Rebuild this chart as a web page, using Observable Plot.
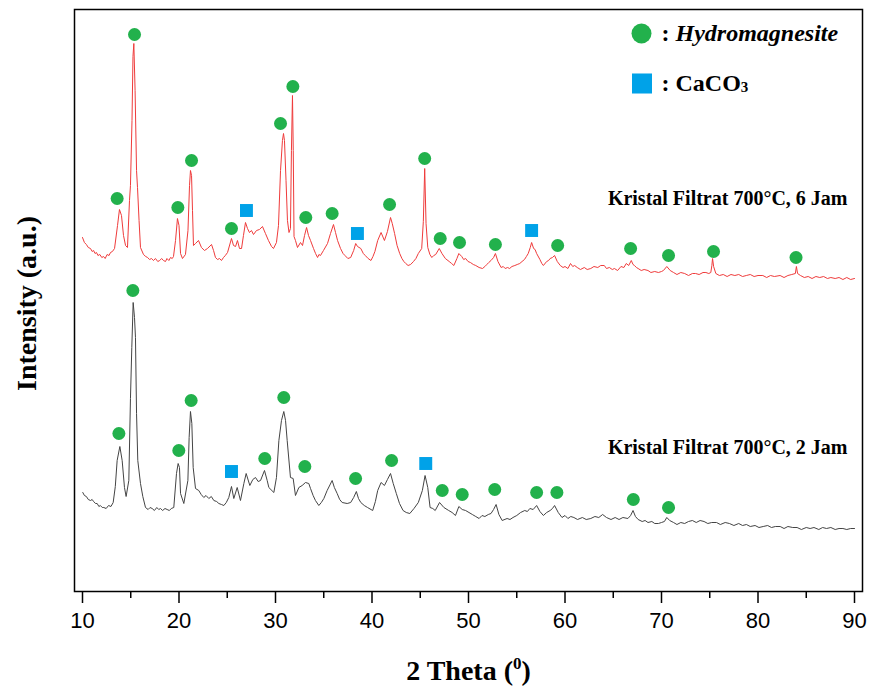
<!DOCTYPE html>
<html><head><meta charset="utf-8">
<script src="https://cdn.jsdelivr.net/npm/d3@7"></script>
<script src="https://cdn.jsdelivr.net/npm/@observablehq/plot@0.6"></script>
<style>body{margin:0;background:#fff}</style>
</head><body><div id="chart"></div>
<script>
// XRD pattern, 700°C 6 h (2θ, intensity a.u. as displayed)
const pattern6h = [
[10.00,354],[10.20,349],[10.40,347],[10.60,344],[10.83,343],[11.00,340],[11.15,341],[11.30,338],[11.45,339],[11.60,336],
[11.80,337],[12.00,334],[12.18,335],[12.35,333],[12.55,337],[12.75,336],[12.90,339],[13.10,340],[13.32,343],
[13.63,366],[13.83,382],[14.04,376],[14.25,356],[14.46,346],[14.66,344],[14.87,391],[14.97,406],[15.13,471],[15.23,535],
[15.32,548],[15.45,501],[15.60,421],[15.70,404],[15.86,371],[16.01,344],[16.32,337],[16.55,335],[16.74,334],[16.95,332],
[17.15,333],[17.35,331],[17.56,333],[17.80,330],[18.00,331],[18.20,333],[18.39,331],[18.60,330],[18.75,333],[18.95,331],
[19.12,334],[19.30,333],[19.43,335],[19.64,351],[19.84,373],[20.00,366],[20.16,338],[20.36,333],
[20.67,337],[20.93,361],[21.09,406],[21.19,421],[21.30,416],[21.40,381],[21.50,346],[21.71,348],[22.02,351],[22.33,344],
[22.64,341],[22.95,343],[23.37,347],[23.58,341],[23.78,334],[24.00,332],[24.20,333],[24.40,331],[24.61,334],[24.80,336],[25.03,339],[25.44,353],[25.65,346],
[25.86,345],[26.06,351],[26.27,343],[26.48,343],[26.68,356],[26.89,369],[27.10,363],[27.30,359],[27.51,361],[27.72,357],
[28.03,361],[28.34,362],[28.65,365],[28.96,358],[29.27,351],[29.59,345],[29.79,343],[30.10,349],[30.31,366],[30.52,421],
[30.72,451],[30.83,458],[30.93,451],[31.09,411],[31.24,371],[31.40,359],[31.55,363],[31.65,441],[31.76,496],[31.84,441],
[31.92,355],[32.07,351],[32.28,344],[32.59,349],[32.80,346],[33.01,356],[33.22,364],[33.42,356],[33.63,351],[33.94,343],
[34.15,338],[34.36,334],[34.50,337],[34.66,336],[34.97,341],[35.39,348],[35.70,358],[36.01,367],[36.22,359],[36.43,351],[36.74,343],[37.00,338],[37.20,336],
[37.50,333],[37.79,334],[38.10,341],[38.31,348],[38.50,345],[38.84,343],[39.10,338],[39.30,336],[39.60,333],[39.89,331],[40.10,335],[40.30,340],[40.59,351],[40.94,359],
[41.29,351],[41.60,360],[41.92,374],[42.10,368],[42.34,358],[42.60,346],[42.87,338],[43.10,333],[43.30,330],[43.50,328],[43.74,326],[44.00,327],[44.30,330],[44.55,333],[44.80,338],
[45.15,343],[45.32,370],[45.46,423],[45.60,368],[45.78,344],[46.00,337],[46.20,334],[46.40,336],[46.60,337],[46.97,343],[47.25,338],[47.60,333],
[48.00,330],[48.25,328],[48.48,326],[48.80,333],[49.00,338],[49.30,335],[49.50,332],[49.70,333],[49.95,330],[50.20,329],[50.50,327],[50.75,326],[51.10,324],[51.45,323],[51.70,325],[51.90,327],
[52.10,329],[52.33,331],[52.60,334],[52.79,338],[53.05,330],[53.38,324],[53.60,325],[53.80,323],[54.05,324],[54.26,323],[54.50,325],[54.80,326],[55.05,327],[55.31,328],[55.55,330],[55.80,332],[56.00,335],[56.19,338],
[56.40,344],[56.54,349],[56.75,343],[56.90,342],[57.06,338],[57.40,332],[57.60,328],[57.76,326],[58.10,330],[58.30,331],[58.46,333],[58.70,334],[58.92,336],[59.20,330],
[59.51,326],[59.80,324],[60.00,325],[60.30,323],[60.57,328],[60.80,325],[61.00,326],[61.27,324],[61.60,322],[62.00,324],[62.30,322],[62.67,323],
[63.00,325],[63.40,324],[63.70,326],[64.07,326],[64.30,323],[64.60,324],[64.90,322],[65.12,323],[65.45,321],[65.80,325],[66.10,324],[66.35,328],
[66.60,326],[66.87,331],[67.05,327],[67.20,326],[67.40,324],[67.58,323],[67.90,321],[68.20,322],[68.60,321],[68.90,319],[69.30,320],[69.68,319],
[70.00,320],[70.20,321],[70.55,325],[70.90,321],[71.25,319],[71.60,317],[72.00,319],[72.40,318],[72.80,316],[73.20,318],[73.53,318],[73.90,317],
[74.30,319],[74.60,319],[74.90,318],[75.11,319],[75.22,326],[75.29,333],[75.40,325],[75.63,318],[76.00,316],[76.40,317],[76.80,315],[77.20,317],
[77.60,316],[78.00,317],[78.40,315],[78.79,316],[79.20,317],[79.60,315],[80.00,316],[80.50,316],[80.90,314],[81.30,316],[81.70,315],[82.29,316],
[82.70,314],[83.10,316],[83.50,317],[83.87,318],[83.98,325],[84.10,318],[84.40,316],[84.80,314],[85.20,315],[85.60,313],[86.00,315],[86.40,314],
[86.80,315],[87.20,313],[87.55,314],[88.00,313],[88.40,314],[88.80,312],[89.20,314],[89.60,312],[90.00,313]
];
// XRD pattern, 700°C 2 h
const pattern2h = [
[10.03,99],[10.20,96],[10.40,95],[10.60,92],[10.83,91],[11.00,92],[11.15,90],[11.35,88],[11.52,88],[11.70,85],[11.85,86],
[12.05,84],[12.21,84],[12.45,83],[12.70,86],[12.95,85],[13.18,89],[13.40,105],
[13.59,131],[13.87,145],[14.11,131],[14.35,104],[14.52,95],[14.80,111],[14.97,193],[15.11,244],[15.25,289],[15.39,274],
[15.49,254],[15.60,178],[15.73,131],[16.01,108],[16.25,95],[16.53,84],[16.80,82],[17.00,84],[17.22,83],[17.45,81],[17.70,84],
[17.90,82],[18.08,83],[18.30,81],[18.55,83],[18.77,82],[19.00,81],[19.20,83],[19.46,84],[19.74,118],
[19.91,128],[20.05,124],[20.16,98],[20.50,88],[20.92,111],[21.05,154],[21.19,180],[21.33,168],[21.47,124],[21.71,103],
[22.05,101],[22.30,97],[22.57,94],[22.80,96],[23.09,93],[23.35,95],[23.61,91],[23.90,90],[24.13,88],[24.40,87],[24.65,86],[24.90,89],[25.16,94],[25.44,105],[25.68,93],[26.03,104],
[26.37,91],[26.72,108],[26.96,118],[27.34,106],[27.65,112],[27.93,114],[28.20,110],[28.45,111],[28.86,121],[29.14,111],[29.31,104],
[29.83,99],[30.10,114],[30.35,151],[30.62,171],[30.86,180],[31.04,171],[31.21,151],[31.55,114],[31.83,113],[32.07,96],
[32.42,104],[32.76,106],[33.11,109],[33.45,108],[33.63,103],[33.90,96],[34.14,91],[34.49,86],[34.75,89],[35.01,93],[35.35,101],[35.87,111],
[36.10,104],[36.39,98],[36.65,92],[36.91,89],[37.43,88],[37.79,89],[38.10,94],[38.38,100],[38.60,93],[38.84,89],[39.20,86],[39.54,84],[40.07,81],[40.35,90],[40.59,101],
[40.94,109],[41.29,106],[41.60,112],[41.92,118],[42.20,108],[42.52,98],[42.85,88],[43.22,81],[43.55,79],[43.92,78],[44.35,83],[44.80,89],[45.22,101],[45.50,116],[45.78,104],
[46.02,84],[46.30,83],[46.55,81],[47.00,89],[47.45,84],[47.95,81],[48.30,79],[48.65,76],[49.00,85],[49.35,82],[49.70,81],[50.05,79],[50.40,77],[50.75,75],[51.10,73],[51.40,76],[51.70,75],
[52.05,77],[52.33,78],[52.60,82],[52.86,87],[53.15,77],[53.49,71],[54.00,73],[54.30,72],[54.61,74],[55.00,76],[55.40,79],[55.83,81],[56.10,80],[56.36,83],[56.70,82],[57.06,86],[57.40,80],[57.76,76],[58.10,79],[58.46,81],[58.70,83],[58.92,86],
[59.30,79],[59.69,74],[60.00,76],[60.30,73],[60.60,75],[60.92,74],[61.30,72],[61.80,74],[62.20,72],[62.67,73],[63.10,75],[63.50,74],[63.90,77],
[64.30,74],[64.77,72],[65.20,74],[65.60,72],[66.00,74],[66.52,73],[66.80,76],[67.05,81],[67.30,75],[67.58,72],[68.00,70],[68.30,71],[68.60,69],
[69.00,70],[69.30,68],[69.68,68],[70.00,69],[70.30,70],[70.55,74],[70.85,71],[71.25,69],[71.60,67],[72.00,69],[72.40,68],[72.80,70],[73.20,71],
[73.60,69],[74.00,71],[74.41,70],[74.80,68],[75.20,69],[75.70,69],[76.10,67],[76.60,69],[77.04,68],[77.50,66],[78.00,68],[78.40,66],[78.80,67],
[79.20,65],[79.70,66],[80.10,64],[80.54,65],[81.00,66],[81.40,64],[81.80,65],[82.30,65],[82.70,63],[83.10,65],[83.60,64],[84.05,64],[84.50,62],
[85.00,64],[85.40,63],[85.80,64],[86.30,62],[86.70,64],[87.10,63],[87.55,64],[88.00,62],[88.40,63],[88.80,63],[89.20,62],[89.60,63],[90.00,63]
];
// Peak markers (2θ, height of marker)
const hydro6h = [[13.59,393],[15.39,557],[19.88,384],[21.30,431],[25.44,363],[30.52,468],[31.80,505],[33.14,374],[35.87,378],
  [41.82,387],[45.46,433],[47.07,353],[49.07,349],[52.79,347],[59.24,346],[66.80,343],[70.73,336],[75.39,340],[83.94,334]];
const caco6h = [[26.99,381],[38.49,358],[56.54,361]];
const hydro2h = [[13.77,158],[15.22,301],[19.98,141],[21.26,191],[28.89,133],[30.86,194],[33.04,125],[38.30,113],[42.03,131],
  [47.28,101],[49.35,97],[52.72,102],[57.06,99],[59.16,99],[67.08,92],[70.73,84]];
const caco2h = [[25.44,120],[45.57,128]];

const majorTicks = [10,20,30,40,50,60,70,80,90];
const minorTicks = [15,25,35,45,55,65,75,85];
const seriesLabels = ["Kristal Filtrat 700°C, 6 Jam", "Kristal Filtrat 700°C, 2 Jam"];
const legendMarks = [":", "Hydromagnesite", ": CaCO₃"];
const xLabel = "2 Theta (⁰)";
const yLabel = "Intensity (a.u.)";

const green = "#22b14c", blue = "#00a2e8";
const serif = "'Liberation Serif', 'Times New Roman', serif";
const X = d => d[0], Y = d => d[1];

const chart = Plot.plot({
  width: 871, height: 688,
  marginLeft: 74, marginRight: 9, marginTop: 9, marginBottom: 97,
  x: {domain: [9.171, 90.829], label: null},
  y: {domain: [0, 582], axis: null},
  style: {fontFamily: "'Liberation Sans', Arial, sans-serif", fontSize: "22px", color: "black", background: "white"},
  marks: [
    Plot.line(pattern6h, {x: X, y: Y, stroke: "#ef3b3b", strokeWidth: 1}),
    Plot.line(pattern2h, {x: X, y: Y, stroke: "#444444", strokeWidth: 1}),
    Plot.dot(hydro6h, {x: X, y: Y, r: 6.5, fill: green}),
    Plot.dot(caco6h, {x: X, y: Y, r: 7.3, symbol: "square", fill: blue}),
    Plot.dot(hydro2h, {x: X, y: Y, r: 6.5, fill: green}),
    Plot.dot(caco2h, {x: X, y: Y, r: 7.3, symbol: "square", fill: blue}),
    Plot.frame({stroke: "black", strokeWidth: 1.5}),
    Plot.axisX(majorTicks, {tickSize: 12, tickPadding: 9, strokeWidth: 1.5, tickFormat: d => String(d), label: null}),
    Plot.axisX(minorTicks, {tickSize: 7, strokeWidth: 1.5, tickFormat: () => "", label: null}),
    // series labels
    Plot.text([seriesLabels[0]], {text: d => d, frameAnchor: "top-right", dx: -15, dy: 195, textAnchor: "end", lineAnchor: "bottom",
      fontFamily: serif, fontWeight: "bold", fontSize: 20, fill: "black"}),
    Plot.text([seriesLabels[1]], {text: d => d, frameAnchor: "top-right", dx: -15, dy: 444, textAnchor: "end", lineAnchor: "bottom",
      fontFamily: serif, fontWeight: "bold", fontSize: 20, fill: "black"}),
    // legend
    Plot.dot([0], {frameAnchor: "top-left", dx: 567, dy: 24, r: 10, fill: green}),
    Plot.dot([0], {frameAnchor: "top-left", dx: 567.5, dy: 74, r: 11.3, symbol: "square", fill: blue}),
    Plot.text([legendMarks[0]], {text: d => d, frameAnchor: "top-left", dx: 587, dy: 31.7, textAnchor: "start", lineAnchor: "bottom",
      fontFamily: serif, fontWeight: "bold", fontSize: 24, fill: "black"}),
    Plot.text([legendMarks[1]], {text: d => d, frameAnchor: "top-left", dx: 601, dy: 31.7, textAnchor: "start", lineAnchor: "bottom",
      fontFamily: serif, fontWeight: "bold", fontStyle: "italic", fontSize: 24, fill: "black"}),
    Plot.text([legendMarks[2]], {text: d => d, frameAnchor: "top-left", dx: 587, dy: 81, textAnchor: "start", lineAnchor: "bottom",
      fontFamily: serif, fontWeight: "bold", fontSize: 24, fill: "black"}),
    // axis titles
    Plot.text([xLabel], {text: d => d, frameAnchor: "bottom", dy: 88, lineAnchor: "bottom",
      fontFamily: serif, fontWeight: "bold", fontSize: 28, fill: "black"}),
    Plot.text([yLabel], {text: d => d, frameAnchor: "left", dx: -47, dy: 3, rotate: -90, textAnchor: "middle", lineAnchor: "middle",
      fontFamily: serif, fontWeight: "bold", fontSize: 28, fill: "black"})
  ]
});
// render superscript / subscript as smaller raised or lowered text
d3.select(chart).selectAll("text").filter(function () { return this.textContent === xLabel; }).each(function () {
  const t = d3.select(this);
  t.text("2 Theta (");
  t.append("tspan").attr("font-size", 17).attr("dy", -11).text("0");
  t.append("tspan").attr("dy", 11).text(")");
});
d3.select(chart).selectAll("text").filter(function () { return this.textContent === legendMarks[2]; }).each(function () {
  const t = d3.select(this);
  t.text(": CaCO");
  t.append("tspan").attr("font-size", 15).attr("dy", 1).text("3");
});
document.getElementById("chart").append(chart);
</script>
</body></html>
